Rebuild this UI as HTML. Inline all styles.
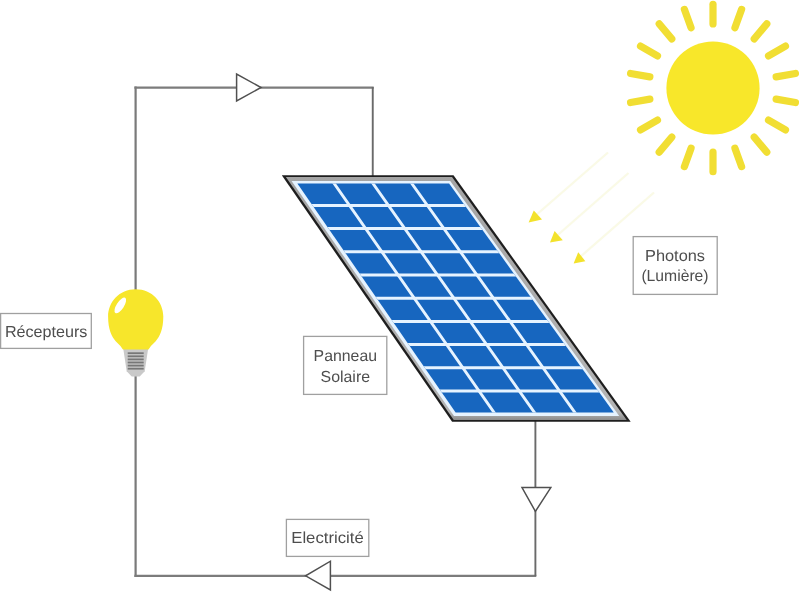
<!DOCTYPE html>
<html lang="fr"><head><meta charset="utf-8"><title>Panneau solaire</title>
<style>html,body{margin:0;padding:0;background:#fff}body{width:800px;height:592px;overflow:hidden}svg{display:block}</style>
</head><body>
<svg width="800" height="592" viewBox="0 0 800 592">
<rect width="800" height="592" fill="#ffffff"/>
<line x1="608" y1="152.5" x2="535" y2="216" stroke="#fafae6" stroke-width="2.2"/>
<line x1="628.5" y1="173" x2="556" y2="236.5" stroke="#fafae6" stroke-width="2.2"/>
<line x1="654" y1="192.5" x2="579.5" y2="257.5" stroke="#fafae6" stroke-width="2.2"/>
<polygon points="528.60,222.60 533.80,210.40 542.00,219.60" fill="#f3e22c"/>
<polygon points="550.00,242.60 554.60,231.00 562.80,240.20" fill="#f3e22c"/>
<polygon points="573.60,263.60 578.20,252.20 585.40,261.20" fill="#f3e22c"/>
<circle cx="713" cy="88" r="46.6" fill="#f8e72a"/>
<line x1="713.00" y1="23.90" x2="713.00" y2="4.30" stroke="#f1de33" stroke-width="7.2" stroke-linecap="round"/>
<line x1="691.08" y1="27.77" x2="684.37" y2="9.35" stroke="#f1de33" stroke-width="7.2" stroke-linecap="round"/>
<line x1="671.80" y1="38.90" x2="659.20" y2="23.88" stroke="#f1de33" stroke-width="7.2" stroke-linecap="round"/>
<line x1="657.49" y1="55.95" x2="640.51" y2="46.15" stroke="#f1de33" stroke-width="7.2" stroke-linecap="round"/>
<line x1="649.87" y1="76.87" x2="630.57" y2="73.47" stroke="#f1de33" stroke-width="7.2" stroke-linecap="round"/>
<line x1="649.87" y1="99.13" x2="630.57" y2="102.53" stroke="#f1de33" stroke-width="7.2" stroke-linecap="round"/>
<line x1="657.49" y1="120.05" x2="640.51" y2="129.85" stroke="#f1de33" stroke-width="7.2" stroke-linecap="round"/>
<line x1="671.80" y1="137.10" x2="659.20" y2="152.12" stroke="#f1de33" stroke-width="7.2" stroke-linecap="round"/>
<line x1="691.08" y1="148.23" x2="684.37" y2="166.65" stroke="#f1de33" stroke-width="7.2" stroke-linecap="round"/>
<line x1="713.00" y1="152.10" x2="713.00" y2="171.70" stroke="#f1de33" stroke-width="7.2" stroke-linecap="round"/>
<line x1="734.92" y1="148.23" x2="741.63" y2="166.65" stroke="#f1de33" stroke-width="7.2" stroke-linecap="round"/>
<line x1="754.20" y1="137.10" x2="766.80" y2="152.12" stroke="#f1de33" stroke-width="7.2" stroke-linecap="round"/>
<line x1="768.51" y1="120.05" x2="785.49" y2="129.85" stroke="#f1de33" stroke-width="7.2" stroke-linecap="round"/>
<line x1="776.13" y1="99.13" x2="795.43" y2="102.53" stroke="#f1de33" stroke-width="7.2" stroke-linecap="round"/>
<line x1="776.13" y1="76.87" x2="795.43" y2="73.47" stroke="#f1de33" stroke-width="7.2" stroke-linecap="round"/>
<line x1="768.51" y1="55.95" x2="785.49" y2="46.15" stroke="#f1de33" stroke-width="7.2" stroke-linecap="round"/>
<line x1="754.20" y1="38.90" x2="766.80" y2="23.88" stroke="#f1de33" stroke-width="7.2" stroke-linecap="round"/>
<line x1="734.92" y1="27.77" x2="741.63" y2="9.35" stroke="#f1de33" stroke-width="7.2" stroke-linecap="round"/>
<path d="M135.6 290 V86.6 M135.6 374 V576.9" fill="none" stroke="#7a7a7a" stroke-width="2.2"/>
<path d="M134.4 87.7 H373.7 M134.4 575.8 H536.3" fill="none" stroke="#7c7c7c" stroke-width="2.2"/>
<path d="M372.75 87 V176 M535.4 421 V576" fill="none" stroke="#6a6a6a" stroke-width="1.9"/>
<polygon points="236.6,74 236.6,101 261,87.5" fill="#fff" stroke="#505050" stroke-width="1.5" stroke-linejoin="miter"/>
<polygon points="522,487.6 550.8,487.6 535.4,511.4" fill="#fff" stroke="#505050" stroke-width="1.5"/>
<polygon points="330.4,561.2 330.4,590 305.6,575.8" fill="#fff" stroke="#505050" stroke-width="1.5"/>
<defs><linearGradient id="fg" x1="0" y1="0" x2="0" y2="1"><stop offset="0" stop-color="#a4a4a4"/><stop offset="0.97" stop-color="#b4b4b4"/><stop offset="1" stop-color="#8c8c8c"/></linearGradient></defs>
<polygon points="281.80,175.30 453.50,175.30 630.70,421.70 452.10,421.70" fill="#1e1e1e"/>
<polygon points="285.87,177.00 452.02,177.00 626.71,419.90 453.76,419.90" fill="url(#fg)"/>
<polygon points="291.57,180.90 450.23,180.90 619.23,415.90 453.99,415.90" fill="#e6f3ff"/>
<clipPath id="bc"><polygon points="297.37,183.50 449.10,183.50 613.78,412.50 455.64,412.50"/></clipPath>
<polygon points="297.37,183.50 449.10,183.50 613.78,412.50 455.64,412.50" fill="#1766bf"/>
<path d="M310.50,205.40 L466.35,205.40 M326.54,228.60 L483.03,228.60 M342.57,251.80 L499.72,251.80 M358.61,275.00 L516.40,275.00 M374.64,298.20 L533.08,298.20 M390.68,321.40 L549.77,321.40 M406.71,344.60 L566.45,344.60 M422.75,367.80 L583.14,367.80 M438.78,391.00 L599.82,391.00" fill="none" stroke="#e6f3ff" stroke-width="3.0" clip-path="url(#bc)"/>
<path d="M333.27,182.20 L495.24,414.20 M372.07,182.20 L535.66,414.20 M410.86,182.20 L576.08,414.20" fill="none" stroke="#e6f3ff" stroke-width="2.9" clip-path="url(#bc)"/>
<path d="M123.29999999999998 349 L148.1 349 L144.7 371.3 L139.7 376.6 L131.7 376.6 L126.69999999999999 371.3 Z" fill="#c9c9c9"/>
<rect x="127.69999999999999" y="352.3" width="16" height="1.8" fill="#777"/>
<rect x="127.69999999999999" y="355.40000000000003" width="16" height="1.8" fill="#777"/>
<rect x="127.69999999999999" y="358.5" width="16" height="1.8" fill="#777"/>
<rect x="127.69999999999999" y="361.6" width="16" height="1.8" fill="#777"/>
<rect x="127.69999999999999" y="364.70000000000005" width="16" height="1.8" fill="#777"/>
<rect x="127.69999999999999" y="367.8" width="16" height="1.8" fill="#777"/>
<path d="M135.7 289.2 C152.2 289.2 163.29999999999998 302 163.29999999999998 316.5 C163.29999999999998 329.5 159.7 336.5 155.7 341.2 Q150.5 345.8 148.5 349.6 L122.89999999999999 349.6 Q120.89999999999999 345.8 115.69999999999999 341.2 C111.69999999999999 336.5 108.1 329.5 108.1 316.5 C108.1 302 119.19999999999999 289.2 135.7 289.2 Z" fill="#f7e62b"/>
<ellipse cx="120.3" cy="305.4" rx="3.7" ry="9" fill="#fff" transform="rotate(33 120.3 305.4)"/>
<g font-family="&quot;Liberation Sans&quot;, sans-serif" font-size="16" fill="#4e4e4e" text-rendering="geometricPrecision" style="filter:grayscale(1)">
<rect x="0.6" y="313.5" width="90.7" height="34.89999999999998" fill="#fff" stroke="#a0a0a0" stroke-width="1.3"/>
<text x="46.2" y="337" text-anchor="middle" textLength="82.5" lengthAdjust="spacingAndGlyphs">Récepteurs</text>
<rect x="303.6" y="336.4" width="83.19999999999999" height="58.0" fill="#fff" stroke="#a0a0a0" stroke-width="1.3"/>
<text x="345.3" y="360.5" text-anchor="middle" textLength="63.4" lengthAdjust="spacingAndGlyphs">Panneau</text>
<text x="345.3" y="382" text-anchor="middle" textLength="49.5" lengthAdjust="spacingAndGlyphs">Solaire</text>
<rect x="633.2" y="236.6" width="84.0" height="57.79999999999998" fill="#fff" stroke="#a0a0a0" stroke-width="1.3"/>
<text x="675" y="260.7" text-anchor="middle" textLength="60" lengthAdjust="spacingAndGlyphs">Photons</text>
<text x="675" y="281.4" text-anchor="middle" textLength="67.2" lengthAdjust="spacingAndGlyphs">(Lumière)</text>
<rect x="286.4" y="519.4" width="82.40000000000003" height="37.0" fill="#fff" stroke="#a0a0a0" stroke-width="1.3"/>
<text x="327.5" y="543.4" text-anchor="middle" textLength="72.5" lengthAdjust="spacingAndGlyphs">Electricité</text>
</g>
</svg>
</body></html>
